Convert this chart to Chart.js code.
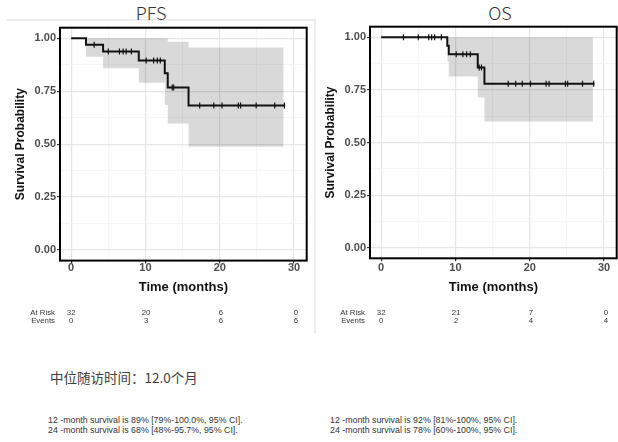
<!DOCTYPE html>
<html>
<head>
<meta charset="utf-8">
<script src="https://cdn.jsdelivr.net/npm/chart.js@4/dist/chart.umd.min.js"></script>
<style>
  body { margin: 0; background: #fff; }
  #wrap { position: relative; width: 618px; height: 442px; overflow: hidden; font-family: "Liberation Sans", Arial, sans-serif; }
  canvas { position: absolute; top: 0; }
  .frame-h { position: absolute; left: 7px; top: 19px; width: 309px; border-top: 2px solid #ededed; }
  .frame-v { position: absolute; left: 314px; top: 19px; height: 314px; border-left: 2px solid #ededed; }
  .title { position: absolute; top: 2px; width: 100px; text-align: center; font: 300 18px/20px "Noto Sans CJK SC", "Noto Sans", sans-serif; color: #333; }
  .median { position: absolute; left: 50px; top: 369px; font: 13.5px/16px "Noto Sans CJK SC", sans-serif; color: #404040; }
  .summary { position: absolute; top: 416px; font: 8.8px/9.5px "Liberation Sans", Arial, sans-serif; color: #333; white-space: nowrap; }
</style>
</head>
<body>
<div id="wrap">
  <div class="frame-h"></div>
  <div class="frame-v"></div>
  <div class="title" style="left:101px">PFS</div>
  <div class="title" style="left:450px">OS</div>
  <canvas id="chart-pfs" width="308" height="332" style="left:0"></canvas>
  <canvas id="chart-os" width="308" height="332" style="left:310px"></canvas>
  <div class="median">中位随访时间：12.0个月</div>
  <div class="summary" style="left:48px">12 -month survival is 89% [79%-100.0%, 95% CI].<br>24 -month survival is 68% [48%-95.7%, 95% CI].</div>
  <div class="summary" style="left:330px">12 -month survival is 92% [81%-100%, 95% CI].<br>24 -month survival is 78% [60%-100%, 95% CI].</div>
</div>
<script>
// --- PFS ---
const pfsTimes = [0, 2.0, 4.3, 9.1, 12.6, 13.0, 15.8, 28.8];
const pfsSurv = [1, 0.969, 0.938, 0.895, 0.835, 0.768, 0.683, 0.683];
const pfsCensorTimes = [3.1, 5.0, 6.5, 7.0, 7.4, 8.1, 10.1, 11.1, 11.6, 12.0, 13.6, 13.8, 17.3, 19.2, 20.3, 22.5, 22.8, 24.9, 27.4, 28.7];
const pfsCensorSurv = [0.969, 0.938, 0.938, 0.938, 0.938, 0.938, 0.895, 0.895, 0.895, 0.895, 0.768, 0.768, 0.683, 0.683, 0.683, 0.683, 0.683, 0.683, 0.683, 0.683];
const pfsBandTimes = [2.0, 4.3, 9.1, 12.6, 13.0, 15.8, 28.6];
const pfsUpper = [1, 1, 1, 1, 0.984, 0.957, 0.957];
const pfsLower = [0.913, 0.858, 0.79, 0.685, 0.598, 0.488, 0.488];
const pfsAtRisk = [32, 20, 6, 0];
const pfsEvents = [0, 3, 6, 6];

// --- OS ---
const osTimes = [0, 8.9, 9.1, 13.0, 13.9, 28.7];
const osSurv = [1, 0.96, 0.919, 0.856, 0.779, 0.779];
const osCensorTimes = [3.0, 5.0, 6.4, 6.8, 7.2, 8.1, 10.1, 11.0, 11.5, 12.0, 13.2, 13.5, 17.1, 18.1, 19.0, 20.1, 22.2, 22.6, 24.8, 25.1, 27.1, 28.6];
const osCensorSurv = [1, 1, 1, 1, 1, 1, 0.919, 0.919, 0.919, 0.919, 0.856, 0.856, 0.779, 0.779, 0.779, 0.779, 0.779, 0.779, 0.779, 0.779, 0.779, 0.779];
const osBandTimes = [8.9, 9.1, 13.0, 13.9, 28.5];
const osUpper = [1, 1, 1, 1, 1];
const osLower = [0.885, 0.813, 0.714, 0.6, 0.6];
const osAtRisk = [32, 21, 7, 0];
const osEvents = [0, 2, 4, 4];

const riskTimes = [0, 10, 20, 30];
const xTicks = [0, 5, 10, 15, 20, 25, 30];
const yTicks = [0, 0.125, 0.25, 0.375, 0.5, 0.625, 0.75, 0.875, 1];

const AXIS_FONT = '"Liberation Sans", Arial, sans-serif';

const zip = (xs, ys) => xs.map((x, i) => ({ x, y: ys[i] }));
const isMajorX = (v) => v % 10 === 0;
const isMajorY = (v) => Math.abs(v * 4 - Math.round(v * 4)) < 1e-9;

const panelBorder = {
  id: 'panelBorder',
  afterDatasetsDraw(chart) {
    const { ctx, chartArea: a } = chart;
    ctx.save();
    ctx.strokeStyle = '#000';
    ctx.lineWidth = 2;
    ctx.strokeRect(a.left, a.top, a.right - a.left, a.bottom - a.top);
    ctx.restore();
  }
};

// number-at-risk table under the x axis, aligned to the x scale
const riskTable = {
  id: 'riskTable',
  afterDraw(chart, args, opts) {
    const { ctx, chartArea } = chart;
    const x = chart.scales.x;
    ctx.save();
    ctx.font = '7.8px ' + AXIS_FONT;
    ctx.fillStyle = '#333';
    ctx.textBaseline = 'middle';
    ctx.textAlign = 'right';
    ctx.fillText('At Risk', chartArea.left - 5, 312.7);
    ctx.fillText('Events', chartArea.left - 5, 320.5);
    ctx.textAlign = 'center';
    riskTimes.forEach((t, i) => {
      const px = x.getPixelForValue(t) + i * 0.6;
      ctx.fillText(String(opts.atRisk[i]), px, 312.7);
      ctx.fillText(String(opts.events[i]), px, 320.5);
    });
    ctx.restore();
  }
};

function createSurvivalChart(id, d, area) {
  const canvas = document.getElementById(id);
  if (!canvas) return;

  const xAxisHeight = 302 - area.bottom;
  const labelPad = 268.3 - area.bottom - 3 - 6.6;

  return new Chart(canvas, {
    type: 'line',
    data: {
      datasets: [
        { data: zip(d.bandTimes, d.upper), stepped: 'before', borderWidth: 0, pointRadius: 0, fill: false, order: 4 },
        { data: zip(d.bandTimes, d.lower), stepped: 'before', borderWidth: 0, pointRadius: 0, fill: '-1', backgroundColor: 'rgba(0, 0, 0, 0.15)', order: 3 },
        { data: zip(d.times, d.surv), stepped: 'before', borderColor: '#111', borderWidth: 2, pointRadius: 0, fill: false, order: 2 },
        { data: zip(d.censorTimes, d.censorSurv), showLine: false, pointStyle: 'line', rotation: 90, pointRadius: 3, pointBorderWidth: 1.2, pointBorderColor: '#111', order: 1 }
      ]
    },
    options: {
      responsive: false,
      animation: false,
      layout: { autoPadding: false, padding: { left: 8, right: 1.3, top: area.top, bottom: 30 } },
      plugins: {
        legend: { display: false },
        tooltip: { enabled: false },
        riskTable: { atRisk: d.atRisk, events: d.events }
      },
      scales: {
        x: {
          type: 'linear',
          min: -1.5,
          max: 31.7,
          afterBuildTicks: (axis) => { axis.ticks = xTicks.map((value) => ({ value })); },
          afterFit: (axis) => { axis.height = xAxisHeight; },
          border: { display: false },
          grid: {
            color: (c) => (isMajorX(c.tick.value) ? '#e6e6e6' : '#f2f2f2'),
            lineWidth: (c) => (isMajorX(c.tick.value) ? 1.2 : 0.8),
            tickColor: (c) => (isMajorX(c.tick.value) ? '#333' : 'rgba(0,0,0,0)'),
            tickLength: 3
          },
          ticks: {
            autoSkip: false, maxRotation: 0, padding: labelPad, color: '#4d4d4d',
            font: { family: AXIS_FONT, size: 11, weight: 'bold' },
            callback: (v) => (isMajorX(v) ? String(v) : '')
          },
          title: { display: true, text: 'Time (months)', color: '#111', font: { family: AXIS_FONT, size: 13, weight: 'bold' }, padding: { top: 0, bottom: 7.2 } }
        },
        y: {
          min: -0.05,
          max: 1.05,
          afterBuildTicks: (axis) => { axis.ticks = yTicks.map((value) => ({ value })); },
          afterFit: (axis) => { axis.width = 52; },
          border: { display: false },
          grid: {
            color: (c) => (isMajorY(c.tick.value) ? '#e6e6e6' : '#f2f2f2'),
            lineWidth: (c) => (isMajorY(c.tick.value) ? 1.2 : 0.8),
            tickColor: (c) => (isMajorY(c.tick.value) ? '#333' : 'rgba(0,0,0,0)'),
            tickLength: 3
          },
          ticks: {
            autoSkip: false, padding: 1, color: '#4d4d4d',
            font: { family: AXIS_FONT, size: 11, weight: 'bold' },
            callback: (v) => (isMajorY(v) ? v.toFixed(2) : '')
          },
          title: { display: true, text: 'Survival Probability', color: '#111', font: { family: AXIS_FONT, size: 12, weight: 'bold' }, padding: { top: 5, bottom: 0 } }
        }
      }
    },
    plugins: [panelBorder, riskTable]
  });
}

createSurvivalChart('chart-pfs', {
  times: pfsTimes, surv: pfsSurv,
  censorTimes: pfsCensorTimes, censorSurv: pfsCensorSurv,
  bandTimes: pfsBandTimes, upper: pfsUpper, lower: pfsLower,
  atRisk: pfsAtRisk, events: pfsEvents
}, { top: 27.7, bottom: 260.6 });

createSurvivalChart('chart-os', {
  times: osTimes, surv: osSurv,
  censorTimes: osCensorTimes, censorSurv: osCensorSurv,
  bandTimes: osBandTimes, upper: osUpper, lower: osLower,
  atRisk: osAtRisk, events: osEvents
}, { top: 26.7, bottom: 258.3 });
</script>
</body>
</html>
